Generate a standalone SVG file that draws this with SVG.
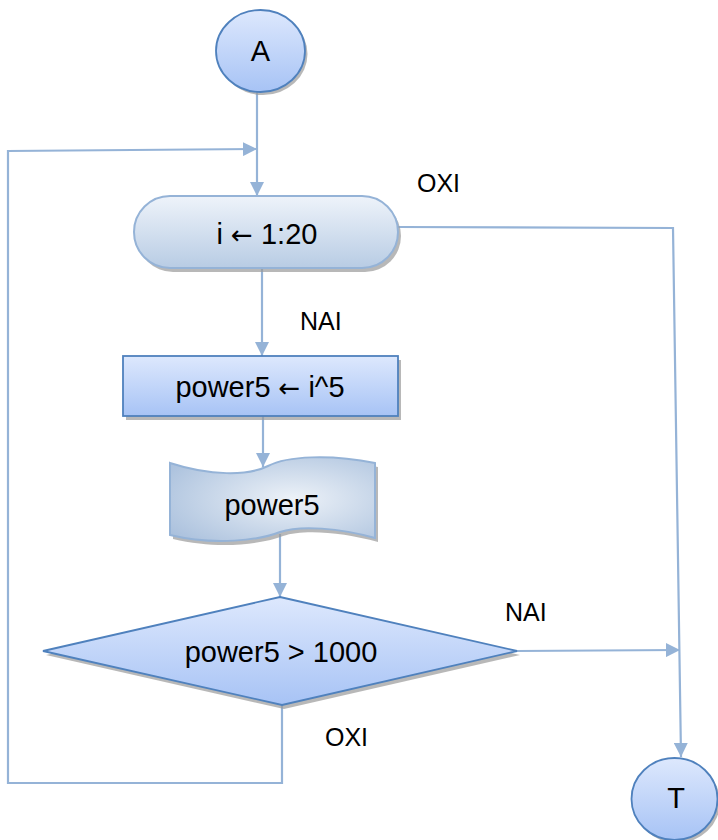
<svg xmlns="http://www.w3.org/2000/svg" width="718" height="840" viewBox="0 0 718 840">
<style>
.ln{fill:none;stroke:#95B3D7;stroke-width:2.2}
.sh{fill:#9a9a9a;opacity:0.7}
.tx{font-family:"Liberation Sans",Arial,sans-serif;font-size:29px;fill:#000;text-anchor:middle}
.ar{font-family:"DejaVu Sans",sans-serif;font-size:26px}
.lb{font-family:"Liberation Sans",Arial,sans-serif;font-size:25px;fill:#000}
</style>
<defs>
<marker id="ah" markerUnits="userSpaceOnUse" markerWidth="14" markerHeight="14" viewBox="0 0 14 14" refX="14" refY="7" orient="auto">
<path d="M0,0 L14,7 L0,14 Z" fill="#95B3D7"/>
</marker>
<linearGradient id="gBlue" x1="0" y1="0" x2="0" y2="1">
<stop offset="0" stop-color="#DDE8FD"/>
<stop offset="1" stop-color="#A7C3F5"/>
</linearGradient>
<linearGradient id="gTerm" x1="0" y1="0" x2="0" y2="1">
<stop offset="0" stop-color="#EEF3FA"/>
<stop offset="1" stop-color="#B8CCE4"/>
</linearGradient>
<radialGradient id="gDoc" cx="0.6" cy="0.5" r="0.75">
<stop offset="0" stop-color="#EDF2F8"/>
<stop offset="1" stop-color="#A8BFDC"/>
</radialGradient>
</defs>

<g id="connectors">
<line class="ln" x1="257" y1="92" x2="257" y2="196" marker-end="url(#ah)"/>
<polyline class="ln" points="282,705 282,783 8,783 8,151 257,149" marker-end="url(#ah)"/>
<line class="ln" x1="262" y1="268" x2="262" y2="356" marker-end="url(#ah)"/>
<line class="ln" x1="263" y1="416" x2="263" y2="467" marker-end="url(#ah)"/>
<line class="ln" x1="280" y1="534" x2="280" y2="597" marker-end="url(#ah)"/>
<polyline class="ln" points="398,227 673,228 681,757" marker-end="url(#ah)"/>
<line class="ln" x1="517" y1="651" x2="680" y2="650" marker-end="url(#ah)"/>
<text class="lb" x="417" y="192">OXI</text>
<text class="lb" x="300" y="330">NAI</text>
<text class="lb" x="505" y="621">NAI</text>
<text class="lb" x="325" y="746">OXI</text>
</g>

<g id="start">
<ellipse class="sh" cx="263" cy="54" rx="44.5" ry="41"/>
<ellipse cx="260.5" cy="51" rx="44.5" ry="41" fill="url(#gBlue)" stroke="#4F81BD" stroke-width="1.8"/>
<text class="tx" x="260.5" y="61">A</text>
</g>

<g id="loop">
<rect class="sh" x="137" y="200" width="264" height="72" rx="36"/>
<rect x="134" y="196" width="264" height="72" rx="36" fill="url(#gTerm)" stroke="#95B3D7" stroke-width="2"/>
<text class="tx" x="267" y="244">i <tspan class="ar">←</tspan> 1:20</text>
</g>

<g id="assign">
<rect class="sh" x="126" y="360" width="275" height="60"/>
<rect x="123" y="356" width="275" height="60" fill="url(#gBlue)" stroke="#4F81BD" stroke-width="1.8"/>
<text class="tx" x="260" y="397">power5 <tspan class="ar">←</tspan> i^5</text>
</g>

<g id="output">
<path class="sh" transform="translate(3,4)" d="M170,463 C210,476 248,476 268,466 C287,456 330,454 375,463 L375,538 C340,528 300,525 280,532 C260,540 215,546 170,535 Z"/>
<path d="M170,463 C210,476 248,476 268,466 C287,456 330,454 375,463 L375,538 C340,528 300,525 280,532 C260,540 215,546 170,535 Z" fill="url(#gDoc)" stroke="#95B3D7" stroke-width="2"/>
<text class="tx" x="272" y="515">power5</text>
</g>

<g id="decision">
<polygon class="sh" points="281,601 520,655 284,709 46,655"/>
<polygon points="280,597 517,651 282,705 43,651" fill="url(#gBlue)" stroke="#4F81BD" stroke-width="1.8"/>
<text class="tx" x="281" y="662">power5 &gt; 1000</text>
</g>

<g id="end">
<ellipse class="sh" cx="677" cy="802" rx="43" ry="41"/>
<ellipse cx="674.5" cy="799" rx="43" ry="41" fill="url(#gBlue)" stroke="#4F81BD" stroke-width="1.8"/>
<text class="tx" x="676" y="808">T</text>
</g>
</svg>
